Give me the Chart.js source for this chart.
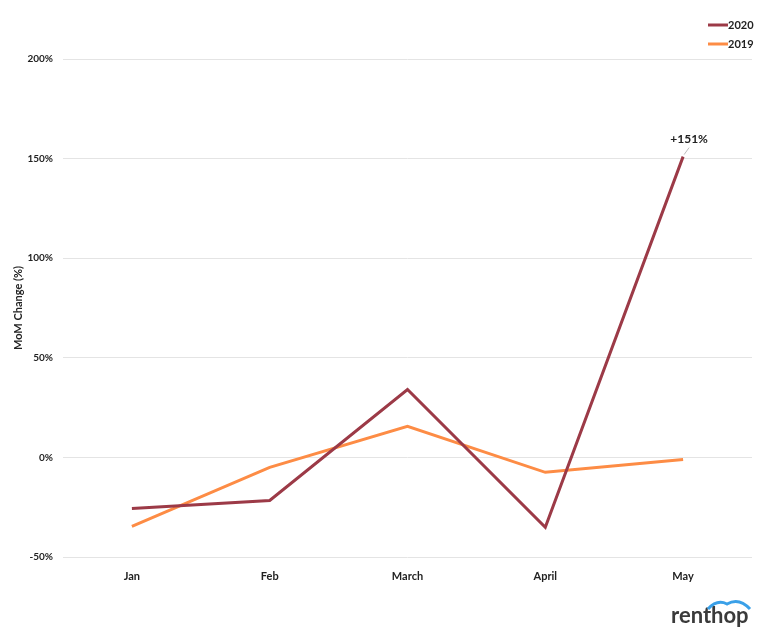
<!DOCTYPE html>
<html>
<head>
<meta charset="utf-8">
<script src="https://cdn.jsdelivr.net/npm/chart.js@4"></script>
<style>
  html, body { margin: 0; padding: 0; background: #fff; }
  #wrap { width: 768px; height: 641px; }
</style>
</head>
<body>
<div id="wrap"><canvas id="chart" width="768" height="641"></canvas></div>
<script>
const months = ['Jan', 'Feb', 'March', 'April', 'May'];
const change2020 = [-25.6, -21.6, 34.1, -35.1, 151];
const change2019 = [-34.6, -5, 15.6, -7.5, -1];
const yTicks = [-50, 0, 50, 100, 150, 200];

const FONT = 'Lato, "Open Sans", sans-serif';
const RED = '#9c3a47';
const ORANGE = '#fd8c45';

// legend in the top right, one row per series
const sideLegend = {
  id: 'sideLegend',
  afterDraw(chart) {
    const ctx = chart.ctx;
    ctx.save();
    chart.data.datasets.forEach((ds, i) => {
      const y = 25 + i * 19;
      ctx.strokeStyle = ds.borderColor;
      ctx.lineWidth = 3;
      ctx.beginPath();
      ctx.moveTo(708, y);
      ctx.lineTo(728, y);
      ctx.stroke();
      ctx.fillStyle = '#222';
      ctx.font = 'bold 11px ' + FONT;
      ctx.textBaseline = 'middle';
      ctx.fillText(ds.label, 728, y);
    });
    ctx.restore();
  }
};

// "+151%" note on the last 2020 point, plus the renthop mark
const extras = {
  id: 'extras',
  afterDraw(chart) {
    const ctx = chart.ctx;
    const pt = chart.getDatasetMeta(0).data[4];
    ctx.save();
    ctx.strokeStyle = '#bbb';
    ctx.lineWidth = 1;
    ctx.beginPath();
    ctx.moveTo(pt.x + 1, pt.y - 2);
    ctx.lineTo(pt.x + 6, pt.y - 9);
    ctx.stroke();
    ctx.fillStyle = '#222';
    ctx.font = 'bold 12px ' + FONT;
    ctx.textAlign = 'center';
    ctx.textBaseline = 'middle';
    ctx.fillText('+151%', pt.x + 6, pt.y - 17);

    ctx.textAlign = 'left';
    ctx.fillStyle = '#3a3a3a';
    ctx.font = 'bold 22px ' + FONT;
    ctx.fillText('renthop', 671, 616);
    ctx.strokeStyle = '#3aa0e8';
    ctx.lineWidth = 3;
    ctx.beginPath();
    ctx.moveTo(708, 609);
    ctx.quadraticCurveTo(717, 599, 727, 604);
    ctx.quadraticCurveTo(739, 597, 750, 609);
    ctx.stroke();
    ctx.restore();
  }
};

new Chart(document.getElementById('chart'), {
  type: 'line',
  data: {
    labels: months,
    datasets: [
      { label: '2020', data: change2020, borderColor: RED, backgroundColor: RED },
      { label: '2019', data: change2019, borderColor: ORANGE, backgroundColor: ORANGE },
    ],
  },
  options: {
    responsive: false,
    animation: false,
    layout: { padding: { top: 59, right: 16, left: 0, bottom: 0 } },
    elements: {
      line: { borderWidth: 3, tension: 0 },
      point: { radius: 0 },
    },
    plugins: {
      legend: { display: false },
      tooltip: { enabled: false },
    },
    scales: {
      x: {
        offset: true,
        grid: { display: false },
        border: { display: false },
        ticks: { color: '#222', font: { family: FONT, size: 11, weight: 'bold' }, padding: 5 },
        afterFit(scale) { scale.height = 84; },
      },
      y: {
        min: -50,
        max: 200,
        afterBuildTicks(scale) { scale.ticks = yTicks.map(v => ({ value: v })); },
        grid: { color: '#e4e4e4', lineWidth: 1, drawTicks: false },
        border: { display: false },
        ticks: {
          color: '#222',
          padding: 10,
          font: { family: FONT, size: 10, weight: 'bold' },
          callback: v => v + '%',
        },
        title: {
          display: true,
          text: 'MoM Change (%)',
          color: '#222',
          font: { family: FONT, size: 11, weight: 'bold' },
          padding: { top: 12, bottom: 0 },
        },
        afterFit(scale) { scale.width = 63; },
      },
    },
  },
  plugins: [sideLegend, extras],
});
</script>
</body>
</html>
